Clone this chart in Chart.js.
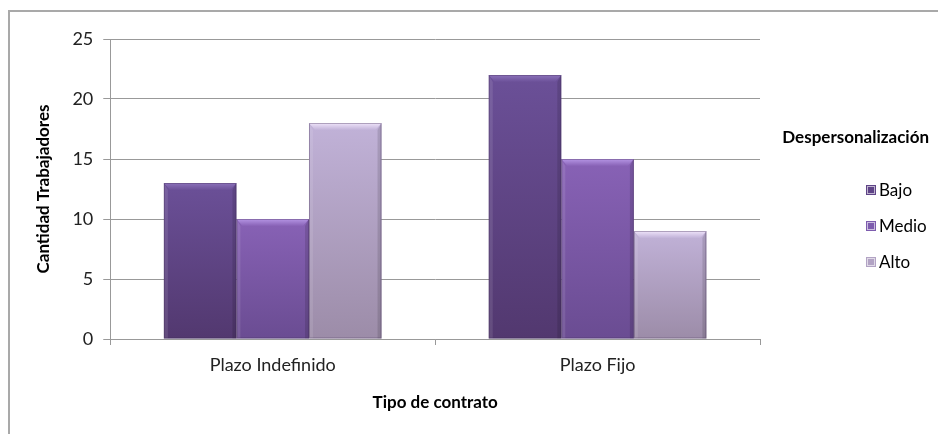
<!DOCTYPE html>
<html>
<head>
<meta charset="utf-8">
<script src="https://cdn.jsdelivr.net/npm/chart.js@4/dist/chart.umd.min.js"></script>
<style>
  body { margin: 0; background: #fff; }
  #wrap { position: relative; width: 938px; height: 434px; }
  #frame { position: absolute; left: 8px; top: 10px; right: -4px; bottom: -4px;
           border-left: 2px solid #a9a9a9; border-top: 2px solid #a9a9a9; }
  canvas { position: absolute; left: 0; top: 0; }
</style>
</head>
<body>
<div id="wrap">
  <div id="frame"></div>
  <canvas id="bar-chart" width="938" height="434"></canvas>
</div>
<script>
// datos
var categorias = ['Plazo Indefinido', 'Plazo Fijo'];
var bajo = [13, 22];
var medio = [10, 15];
var alto = [18, 9];
var series = ['Bajo', 'Medio', 'Alto'];
var yTicks = [0, 5, 10, 15, 20, 25];

// colores: arriba, abajo, bisel
var colores = [
	{ top: '#6b5098', bottom: '#52386f', bevel: '#8c72ba', legend: '#5f4487' },
	{ top: '#8862b6', bottom: '#6a4c92', bevel: '#b595e4', legend: '#7d5cae' },
	{ top: '#c1b2d8', bottom: '#9c8ca8', bevel: '#efe4fa', legend: '#b2a3c4' }
];

Chart.defaults.font.family = 'Lato, "DejaVu Sans", sans-serif';

function barFill(i){
	return function(ctx){
		var chart = ctx.chart;
		var area = chart.chartArea;
		if (!area || ctx.raw === undefined) return colores[i].legend;
		var yTop = chart.scales.y.getPixelForValue(ctx.raw);
		var g = chart.ctx.createLinearGradient(0, yTop, 0, area.bottom);
		g.addColorStop(0, colores[i].top);
		g.addColorStop(1, colores[i].bottom);
		return g;
	};
}

// bisel tipo Excel sobre cada barra
var bevelPlugin = {
	id: 'bevel',
	afterDatasetsDraw: function(chart){
		var c = chart.ctx;
		chart.data.datasets.forEach(function(ds, i){
			var meta = chart.getDatasetMeta(i);
			meta.data.forEach(function(bar){
				var l = bar.x - bar.width / 2, r = bar.x + bar.width / 2;
				var t = bar.y, b = bar.base, d = 7;
				c.save();
				// lado izquierdo claro
				c.fillStyle = 'rgba(255,255,255,0.10)';
				c.beginPath(); c.moveTo(l, t); c.lineTo(l + 4, t + d); c.lineTo(l + 4, b); c.lineTo(l, b); c.closePath(); c.fill();
				// lado derecho oscuro
				c.fillStyle = 'rgba(0,0,0,0.12)';
				c.beginPath(); c.moveTo(r, t); c.lineTo(r - 4, t + d); c.lineTo(r - 4, b); c.lineTo(r, b); c.closePath(); c.fill();
				// borde superior
				var g = c.createLinearGradient(0, t, 0, t + d);
				g.addColorStop(0, colores[i].bevel);
				g.addColorStop(1, colores[i].top);
				c.fillStyle = g;
				c.beginPath(); c.moveTo(l, t); c.lineTo(r, t); c.lineTo(r - 6, t + d); c.lineTo(l + 6, t + d); c.closePath(); c.fill();
				c.strokeStyle = 'rgba(60,40,80,0.35)';
				c.lineWidth = 1;
				c.strokeRect(l + 0.5, t + 0.5, bar.width - 1, b - t - 1);
				c.restore();
			});
		});
	}
};

// leyenda a la derecha
var sideLegend = {
	id: 'sideLegend',
	afterDraw: function(chart){
		var c = chart.ctx;
		c.save();
		c.fillStyle = '#000';
		c.textBaseline = 'middle';
		c.textAlign = 'right';
		c.font = 'bold 17px Lato, sans-serif';
		c.fillText('Despersonalización', 929, 138);
		c.textAlign = 'left';
		c.font = '17px Lato, sans-serif';
		chart.data.datasets.forEach(function(ds, i){
			var y = 190 + i * 36;
			c.fillStyle = colores[i].legend;
			c.fillRect(866, y - 5, 10, 10);
			c.strokeStyle = 'rgba(255,255,255,0.6)';
			c.strokeRect(867.5, y - 3.5, 7, 7);
			c.fillStyle = '#000';
			c.fillText(ds.label, 879, y + 1);
		});
		c.restore();
	}
};

new Chart(document.getElementById('bar-chart'), {
	type: 'bar',
	data: {
		labels: categorias,
		datasets: [
			{ label: series[0], data: bajo, backgroundColor: barFill(0) },
			{ label: series[1], data: medio, backgroundColor: barFill(1) },
			{ label: series[2], data: alto, backgroundColor: barFill(2) }
		]
	},
	options: {
		responsive: false,
		animation: false,
		categoryPercentage: 0.67,
		barPercentage: 1.0,
		layout: { padding: { left: 33, top: 39, right: 178, bottom: 21 } },
		plugins: {
			legend: { display: false },
			tooltip: { enabled: false }
		},
		scales: {
			x: {
				grid: { offset: true, drawOnChartArea: false, tickLength: 6, color: '#999' },
				border: { color: '#999' },
				ticks: { color: '#222', padding: 9, font: { size: 18 } },
				title: { display: true, text: 'Tipo de contrato', color: '#000',
					font: { size: 17, weight: 'bold' }, padding: { top: 8, bottom: 0 } }
			},
			y: {
				min: yTicks[0],
				max: yTicks[yTicks.length - 1],
				afterBuildTicks: function(axis){
					axis.ticks = yTicks.map(function(v){ return { value: v }; });
				},
				grid: { color: '#999', tickLength: 7 },
				border: { color: '#999' },
				ticks: { color: '#222', padding: 10, font: { size: 18 } },
				title: { display: true, text: 'Cantidad Trabajadores', color: '#000',
					font: { size: 17, weight: 'bold' }, padding: { top: 0, bottom: 9 } }
			}
		}
	},
	plugins: [bevelPlugin, sideLegend]
});
</script>
</body>
</html>
